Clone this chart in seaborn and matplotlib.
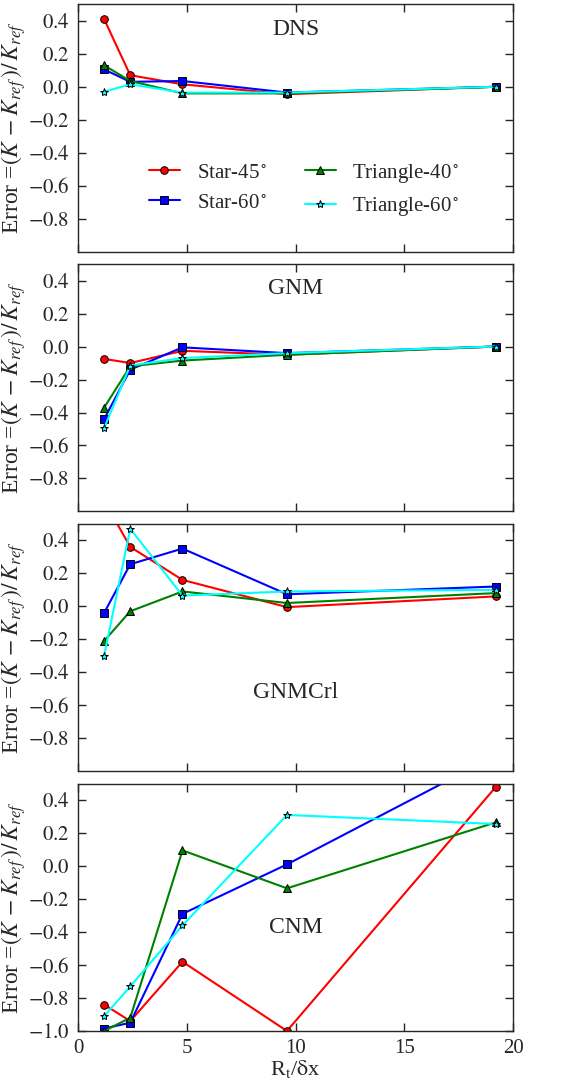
import numpy as np
import pandas as pd
import matplotlib
matplotlib.use("Agg")
import matplotlib.pyplot as plt
from matplotlib.ticker import FuncFormatter
import seaborn as sns

# resolution ratio R_t / dx
x = [1.2, 2.4, 4.8, 9.6, 19.2]

series = ['Star-45$^\\circ$', 'Star-60$^\\circ$', 'Triangle-40$^\\circ$', 'Triangle-60$^\\circ$']
colors = ['red', 'blue', 'green', 'cyan']
markers = ['o', 's', '^', '*']
msizes = [5.5, 5.5, 5.5, 6]

panels = ['DNS', 'GNM', 'GNMCrl', 'CNM']

# error values per panel, in the order of `series`
dns = [[0.41, 0.07, 0.015, -0.045, 0.0],
       [0.105, 0.03, 0.035, -0.035, 0.0],
       [0.13, 0.035, -0.04, -0.04, 0.0],
       [-0.03, 0.015, -0.035, -0.035, 0.0]]
gnm = [[-0.075, -0.10, -0.026, -0.05, 0.0],
       [-0.44, -0.14, -0.005, -0.04, 0.0],
       [-0.37, -0.12, -0.085, -0.05, 0.0],
       [-0.495, -0.115, -0.07, -0.04, 0.0]]
gnmcrl = [[0.64, 0.36, 0.16, -0.005, 0.06],
          [-0.04, 0.255, 0.35, 0.073, 0.12],
          [-0.21, -0.03, 0.09, 0.02, 0.08],
          [-0.30, 0.47, 0.065, 0.09, 0.10]]
cnm = [[-0.84, -0.94, -0.58, -1.0, 0.48],
       [-0.985, -0.95, -0.29, 0.01, 0.67],
       [-1.0, -0.92, 0.095, -0.135, 0.265],
       [-0.91, -0.73, -0.36, 0.31, 0.255]]

data = [dns, gnm, gnmcrl, cnm]
label_pos = [(0.5, 0.9), (0.5, 0.9), (0.5, 0.32), (0.5, 0.42)]

sns.set_style('ticks')
plt.rcParams['font.family'] = ['Liberation Serif', 'DejaVu Serif']
plt.rcParams['mathtext.fontset'] = 'stix'
plt.rcParams['xtick.direction'] = 'in'
plt.rcParams['ytick.direction'] = 'in'
plt.rcParams['xtick.top'] = True
plt.rcParams['ytick.right'] = True
plt.rcParams['xtick.major.size'] = 6
plt.rcParams['ytick.major.size'] = 6

fmt = FuncFormatter(lambda v, p: '$%.1f$' % v)
xfmt = FuncFormatter(lambda v, p: '%d' % v)

fig, axes = plt.subplots(4, 1, figsize=(5.78, 10.79), dpi=100, sharex=True)
fig.subplots_adjust(left=0.135, right=0.888, top=0.996, bottom=0.0445, hspace=0.05)

for k, ax in enumerate(axes):
    for i, name in enumerate(series):
        df = pd.DataFrame({'x': x, 'y': data[k][i]})
        sns.lineplot(data=df, x='x', y='y', ax=ax, color=colors[i], marker=markers[i],
                     markersize=msizes[i], markeredgecolor='black', markeredgewidth=0.7,
                     linewidth=1.5, label=name, legend=False)
    ax.set_xlim(0, 20)
    ax.set_ylim(-1.0, 0.5)
    if k < 3:
        ax.set_yticks([-0.8, -0.6, -0.4, -0.2, 0.0, 0.2, 0.4])
    else:
        ax.set_yticks([-1.0, -0.8, -0.6, -0.4, -0.2, 0.0, 0.2, 0.4])
    ax.set_xticks([0, 5, 10, 15, 20])
    ax.yaxis.set_major_formatter(fmt)
    ax.xaxis.set_major_formatter(xfmt)
    ax.tick_params(labelsize=15, width=1, pad=6)
    ax.set_ylabel(r'Error =$(K\,-K_{ref}\,)/\,K_{ref}$', fontsize=17, labelpad=0)
    ax.set_xlabel('')
    ax.text(label_pos[k][0], label_pos[k][1], panels[k], transform=ax.transAxes,
            ha='center', va='center', fontsize=17)
    for s in ax.spines.values():
        s.set_linewidth(1)

axes[0].legend(loc='center', bbox_to_anchor=(0.52, 0.25), ncol=2, frameon=False,
               fontsize=15, handlelength=1.5, columnspacing=1.8, labelspacing=0.5)
axes[-1].set_xlabel(r'R$_{\rm t}$/$\mathrm{\delta}$x', fontsize=16, labelpad=0)

fig.savefig('out.png', dpi=100)
